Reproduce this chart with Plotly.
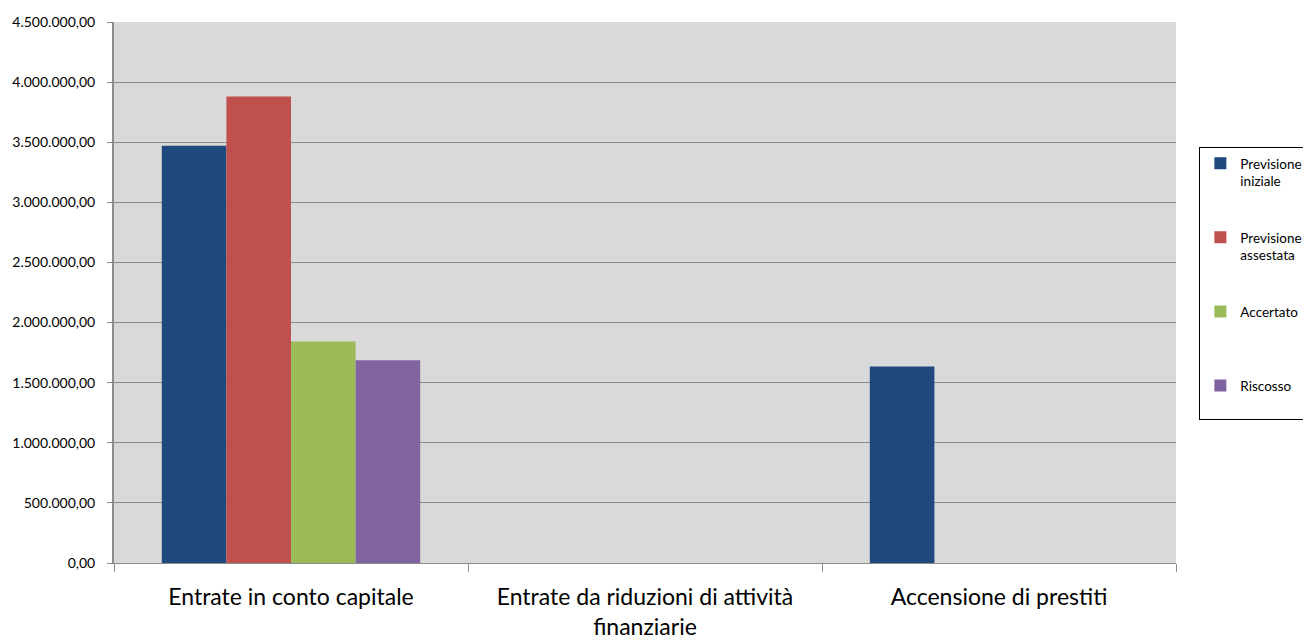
import plotly.graph_objects as go

categories = ["Entrate in conto capitale",
              "Entrate da riduzioni di attività<br>finanziarie",
              "Accensione di prestiti"]
series_names = ["Previsione<br>iniziale", "Previsione<br>assestata", "Accertato<br> ", "Riscosso<br> "]
previsione_iniziale = [3470000, 0, 1635000]
previsione_assestata = [3881000, 0, 0]
accertato = [1843000, 0, 0]
riscosso = [1686000, 0, 0]
y_ticks = [0, 500000, 1000000, 1500000, 2000000, 2500000, 3000000, 3500000, 4000000, 4500000]

series_values = [previsione_iniziale, previsione_assestata, accertato, riscosso]
colors = ["#1F497D", "#C0504D", "#9BBB59", "#8064A2"]

fig = go.Figure()
for i, (name, vals, col) in enumerate(zip(series_names, series_values, colors)):
    fig.add_trace(go.Bar(
        x=categories, y=vals, name=name,
        marker=dict(color=col, line=dict(width=0)),
        legendgroup=f"g{i}",
    ))

fig.update_layout(
    width=1303, height=634,
    margin=dict(l=106, r=135, t=14, b=79, autoexpand=False),
    paper_bgcolor="white",
    plot_bgcolor="#D9D9D9",
    barmode="group",
    bargap=0.27,
    bargroupgap=0,
    separators=",.",
    font=dict(family="Lato, Carlito, sans-serif", color="black"),
    showlegend=True,
    legend=dict(
        x=1.022, xanchor="left", y=0.769, yanchor="top",
        bordercolor="black", borderwidth=1,
        font=dict(size=13.5),
        tracegroupgap=36,
        valign="top",
        itemsizing="constant",
    ),
)
fig.update_yaxes(
    range=[0, 4500000],
    tickvals=y_ticks,
    tickformat=",.2f",
    showgrid=True, gridcolor="#8C8C8C", gridwidth=1,
    showline=True, linecolor="#8C8C8C", linewidth=2,
    ticks="outside", ticklen=5, tickcolor="#8C8C8C",
    tickfont=dict(size=14),
    zeroline=False,
    ticklabelstandoff=9,
)
fig.update_xaxes(
    showline=True, linecolor="#8C8C8C", linewidth=1,
    ticks="outside", ticklen=8, tickcolor="#8C8C8C",
    tickson="boundaries",
    tickfont=dict(size=23),
    ticklabelstandoff=13,
)

fig.write_html("out.html")
